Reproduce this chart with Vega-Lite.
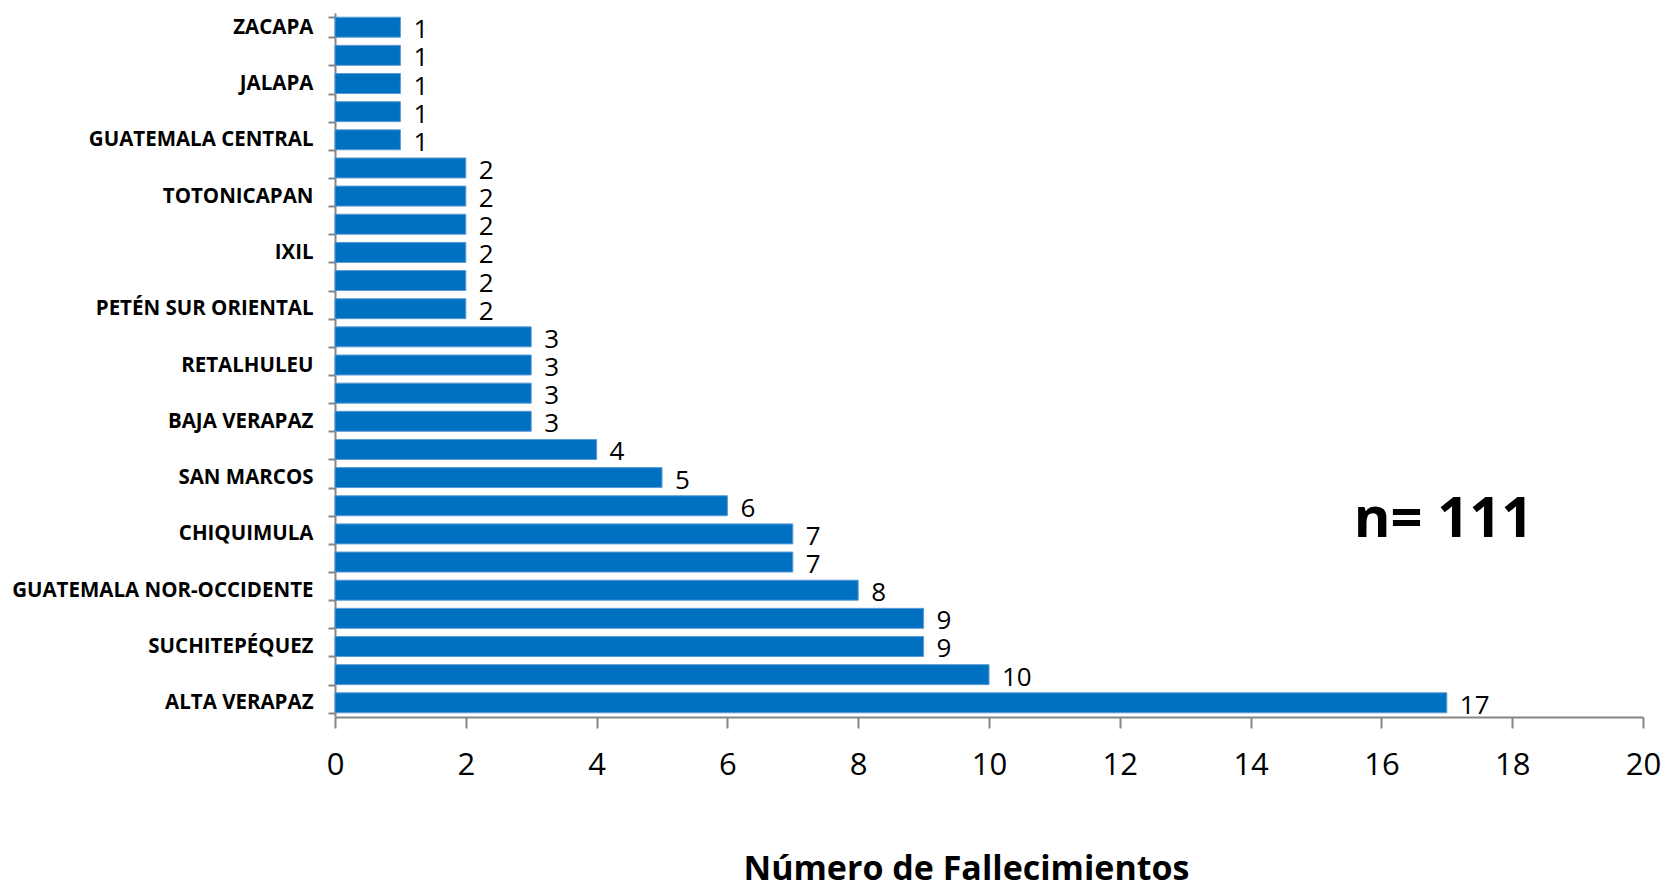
{
  "$schema": "https://vega.github.io/schema/vega-lite/v6.json",
  "width": 1308,
  "height": 704,
  "autosize": "none",
  "padding": {"left": 335, "top": 13, "right": 22, "bottom": 171},
  "background": "white",
  "config": {"view": {"stroke": null}, "font": "Open Sans"},
  "data": {"values": [
    {"area": "ZACAPA", "n": 1},
    {"area": "EL PROGRESO", "n": 1},
    {"area": "JALAPA", "n": 1},
    {"area": "SACATEPÉQUEZ", "n": 1},
    {"area": "GUATEMALA CENTRAL", "n": 1},
    {"area": "SANTA ROSA", "n": 2},
    {"area": "TOTONICAPAN", "n": 2},
    {"area": "PETÉN NORTE", "n": 2},
    {"area": "IXIL", "n": 2},
    {"area": "SOLOLÁ", "n": 2},
    {"area": "PETÉN SUR ORIENTAL", "n": 2},
    {"area": "IZABAL", "n": 3},
    {"area": "RETALHULEU", "n": 3},
    {"area": "JUTIAPA", "n": 3},
    {"area": "BAJA VERAPAZ", "n": 3},
    {"area": "QUICHÉ", "n": 4},
    {"area": "SAN MARCOS", "n": 5},
    {"area": "CHIMALTENANGO", "n": 6},
    {"area": "CHIQUIMULA", "n": 7},
    {"area": "QUETZALTENANGO", "n": 7},
    {"area": "GUATEMALA NOR-OCCIDENTE", "n": 8},
    {"area": "ESCUINTLA", "n": 9},
    {"area": "SUCHITEPÉQUEZ", "n": 9},
    {"area": "HUEHUETENANGO", "n": 10},
    {"area": "ALTA VERAPAZ", "n": 17}
  ]},
  "encoding": {
    "y": {
      "field": "area", "type": "nominal", "sort": null,
      "scale": {"paddingInner": 0.29, "paddingOuter": 0.15},
      "axis": {
        "title": null,
        "labelExpr": "indexof(['EL PROGRESO','SACATEPÉQUEZ','SANTA ROSA','PETÉN NORTE','SOLOLÁ','IZABAL','JUTIAPA','QUICHÉ','CHIMALTENANGO','QUETZALTENANGO','ESCUINTLA','HUEHUETENANGO'], datum.value) >= 0 ? '' : datum.value",
        "labelFont": "Open Sans", "labelFontWeight": "bold", "labelFontSize": 20.5,
        "labelColor": "#000000", "labelPadding": 15, "labelLimit": 400,
        "tickBand": "extent", "tickSize": 7, "tickColor": "#868686", "tickWidth": 2,
        "domainColor": "#868686", "domainWidth": 2
      }
    },
    "x": {
      "field": "n", "type": "quantitative",
      "scale": {"domain": [0, 20], "nice": false},
      "axis": {
        "title": "Número de Fallecimientos",
        "titleFont": "Open Sans", "titleFontWeight": "bold", "titleFontSize": 34, "titleColor": "#000000",
        "titlePadding": 72, "titleX": 631,
        "values": [0, 2, 4, 6, 8, 10, 12, 14, 16, 18, 20],
        "labelFont": "Open Sans", "labelFontSize": 31, "labelColor": "#000000", "labelPadding": 22,
        "labelFlush": false,
        "grid": false, "tickSize": 11, "tickColor": "#868686", "tickWidth": 2,
        "domainColor": "#868686", "domainWidth": 2
      }
    }
  },
  "layer": [
    {"mark": {"type": "bar", "color": "#0070C0", "stroke": "#5B9BD5", "strokeWidth": 1}},
    {"mark": {"type": "text", "align": "left", "baseline": "middle", "dx": 13, "dy": 3, "fontSize": 26, "font": "Open Sans", "color": "#000000"},
     "encoding": {"text": {"field": "n", "type": "quantitative"}}},
    {"data": {"values": [{"label": "n= 111", "x": 16.95, "area": "CHIQUIMULA"}]},
     "mark": {"type": "text", "align": "center", "baseline": "middle", "dy": -14, "fontSize": 56, "fontWeight": "bold", "font": "Open Sans", "color": "#000000"},
     "encoding": {
       "x": {"field": "x", "type": "quantitative"},
       "y": {"field": "area", "type": "nominal", "sort": null},
       "text": {"field": "label", "type": "nominal"}
     }}
  ]
}
